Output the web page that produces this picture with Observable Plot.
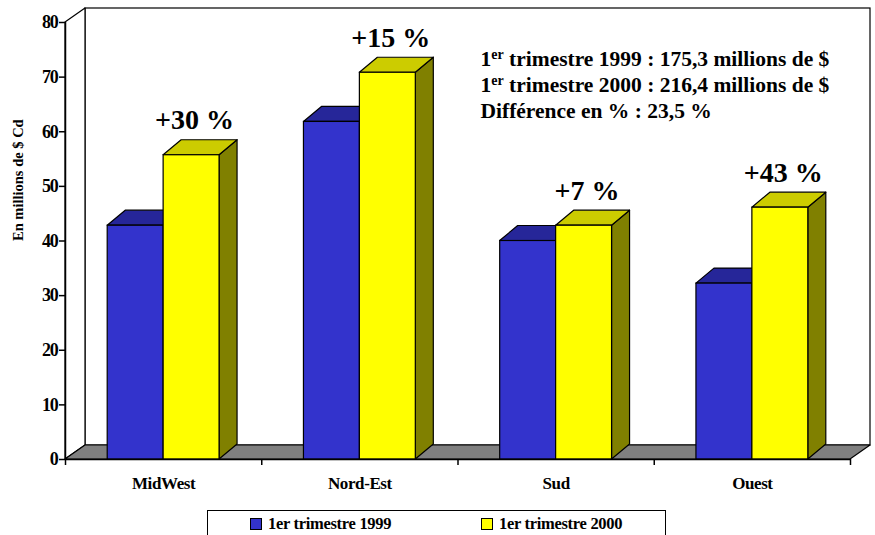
<!DOCTYPE html>
<html>
<head>
<meta charset="utf-8">
<script src="https://cdn.jsdelivr.net/npm/d3@7"></script>
<script src="https://cdn.jsdelivr.net/npm/@observablehq/plot@0.6"></script>
<style>
  body { margin: 0; background: white; }
  #wrap { position: relative; width: 875px; height: 535px; overflow: hidden; font-family: 'Liberation Serif'; }
  #chart svg, #chart svg text, #chart svg tspan { font-family: 'Liberation Serif' !important; }
  #chart svg g[aria-label="y-axis tick label"] text { letter-spacing: -1.2px; }
  #chart svg g.cat text { letter-spacing: -0.4px; }
  #legend { position: absolute; left: 207px; top: 510px; width: 459px; height: 40px; border: 1.5px solid black; box-sizing: border-box; font-family: 'Liberation Serif'; font-weight: bold; font-size: 16.5px; letter-spacing: -0.3px; }
  #legend .item { position: absolute; top: 3px; white-space: nowrap; }
  #legend .sw { display: inline-block; width: 10px; height: 10px; border: 1px solid black; margin-right: 6px; vertical-align: -1px; }
</style>
</head>
<body>
<div id="wrap"><div id="chart"></div><div id="legend"></div></div>
<script>
// ---- data ----
const categories = ["MidWest", "Nord-Est", "Sud", "Ouest"];
const values1999 = [42.8, 61.8, 40.0, 32.2];
const values2000 = [55.7, 70.8, 42.8, 46.1];
const changeLabels = ["+30 %", "+15 %", "+7 %", "+43 %"];
const seriesNames = ["1er trimestre 1999", "1er trimestre 2000"];
const yTicks = [0, 10, 20, 30, 40, 50, 60, 70, 80];
const yTitle = "En millions de $ Cd";
const notes = [
  "1er trimestre 1999 : 175,3 millions de $",
  "1er trimestre 2000 : 216,4 millions de $",
  "Différence en % : 23,5 %"
];

// ---- layout ----
const W = 875, H = 505, mL = 65, mR = 25, mT = 22, mB = 46;
const yMax = 80, nCat = categories.length;
const pxX = (W - mL - mR) / nCat;
const pxY = (H - mT - mB) / yMax;
const barDX = 18 / pxX, barDY = 15 / pxY;
const wallDX = 20 / pxX, wallDY = 14 / pxY;
const gap = 0.215, barW = 0.285;
const font = "Liberation Serif";

const series = [
  {name: seriesNames[0], values: values1999, front: "#3333CC", top: "#262699", side: "#1A1A66"},
  {name: seriesNames[1], values: values2000, front: "#FFFF00", top: "#CCCC00", side: "#808000"}
];

const sw = 1.2;
const marks = [];

// back wall
marks.push(Plot.rect([0], {x1: wallDX, x2: nCat + wallDX, y1: wallDY, y2: yMax + wallDY, fill: "white", stroke: "black", strokeWidth: sw}));
// left wall
marks.push(Plot.areaY([{x: 0, y1: 0, y2: yMax}, {x: wallDX, y1: wallDY, y2: yMax + wallDY}],
  {x: "x", y1: "y1", y2: "y2", fill: "white", stroke: "black", strokeWidth: sw}));
// floor
marks.push(Plot.areaX([{y: 0, x1: 0, x2: nCat}, {y: wallDY, x1: wallDX, x2: nCat + wallDX}],
  {y: "y", x1: "x1", x2: "x2", fill: "#808080", stroke: "black", strokeWidth: sw}));

series.forEach((s, si) => {
  const bars = categories.map((c, i) => ({
    id: i, x1: i + gap + si * barW, x2: i + gap + (si + 1) * barW, v: s.values[i]
  }));
  const sides = bars.flatMap(b => [
    {id: b.id, x: b.x2, y1: 0, y2: b.v},
    {id: b.id, x: b.x2 + barDX, y1: barDY, y2: b.v + barDY}
  ]);
  const tops = bars.flatMap(b => [
    {id: b.id, y: b.v, x1: b.x1, x2: b.x2},
    {id: b.id, y: b.v + barDY, x1: b.x1 + barDX, x2: b.x2 + barDX}
  ]);
  marks.push(Plot.areaY(sides, {x: "x", y1: "y1", y2: "y2", z: "id", fill: s.side, stroke: "black", strokeWidth: sw}));
  marks.push(Plot.areaX(tops, {y: "y", x1: "x1", x2: "x2", z: "id", fill: s.top, stroke: "black", strokeWidth: sw}));
  marks.push(Plot.rect(bars, {x1: "x1", x2: "x2", y1: 0, y2: "v", fill: s.front, stroke: "black", strokeWidth: sw}));
});

// axes
marks.push(Plot.axisY({ticks: yTicks, tickSize: 6, tickPadding: 2, tickFormat: d => String(d), label: null,
  fontSize: 18, fontWeight: "bold", fontFamily: font, strokeWidth: 1.5}));
marks.push(Plot.axisX({ticks: d3.range(nCat + 1), tickSize: 6, tickFormat: () => "", label: null, strokeWidth: 1.5}));
marks.push(Plot.ruleX([0], {y1: 0, y2: yMax, stroke: "black", strokeWidth: 1.5}));
marks.push(Plot.ruleY([0], {x1: 0, x2: nCat, stroke: "black", strokeWidth: 1.5}));

// category labels
marks.push(Plot.text(categories, {x: (d, i) => i + 0.5, y: 0, dy: 24, text: d => d, fontSize: 17, fontWeight: "bold", fontFamily: font, className: "cat"}));
// y title
marks.push(Plot.text([yTitle], {frameAnchor: "left", rotate: -90, dx: -47, text: d => d, fontSize: 14.5, fontWeight: "bold", fontFamily: font}));
// change labels
marks.push(Plot.text(changeLabels, {x: (d, i) => i + gap + 1.5 * barW, y: (d, i) => values2000[i], dx: 3, dy: -26,
  lineAnchor: "bottom", text: d => d, fontSize: 28, fontWeight: "bold", fontFamily: font}));
// notes
marks.push(Plot.text([notes.join("\n")], {frameAnchor: "top-left", dx: 415, dy: 25, lineAnchor: "top",
  lineHeight: 26 / 21.5, textAnchor: "start", text: d => d, fontSize: 21.5, fontWeight: "bold", fontFamily: font}));

const chart = Plot.plot({
  width: W, height: H,
  marginLeft: mL, marginRight: mR, marginTop: mT, marginBottom: mB,
  x: {type: "linear", domain: [0, nCat], axis: null},
  y: {type: "linear", domain: [0, yMax], axis: null},
  style: {fontFamily: font, background: "white", color: "black", overflow: "visible"},
  marks
});
document.getElementById("chart").appendChild(chart);

// superscripts for "1er"
d3.select(chart).selectAll("tspan").each(function() {
  const t = this.textContent;
  if (/^1er trimestre \d{4} :/.test(t)) {
    const sel = d3.select(this);
    sel.text("");
    sel.append("tspan").text("1");
    sel.append("tspan").attr("font-size", 14).attr("dy", -7).text("er");
    sel.append("tspan").attr("dy", 7).text(t.slice(3));
  }
});

// legend
const legend = d3.select("#legend");
const legendLeft = [42, 273];
series.forEach((s, i) => {
  const it = legend.append("div").attr("class", "item").style("left", legendLeft[i] + "px");
  it.append("span").attr("class", "sw").style("background", s.front);
  it.append("span").text(s.name);
});
</script>
</body>
</html>
